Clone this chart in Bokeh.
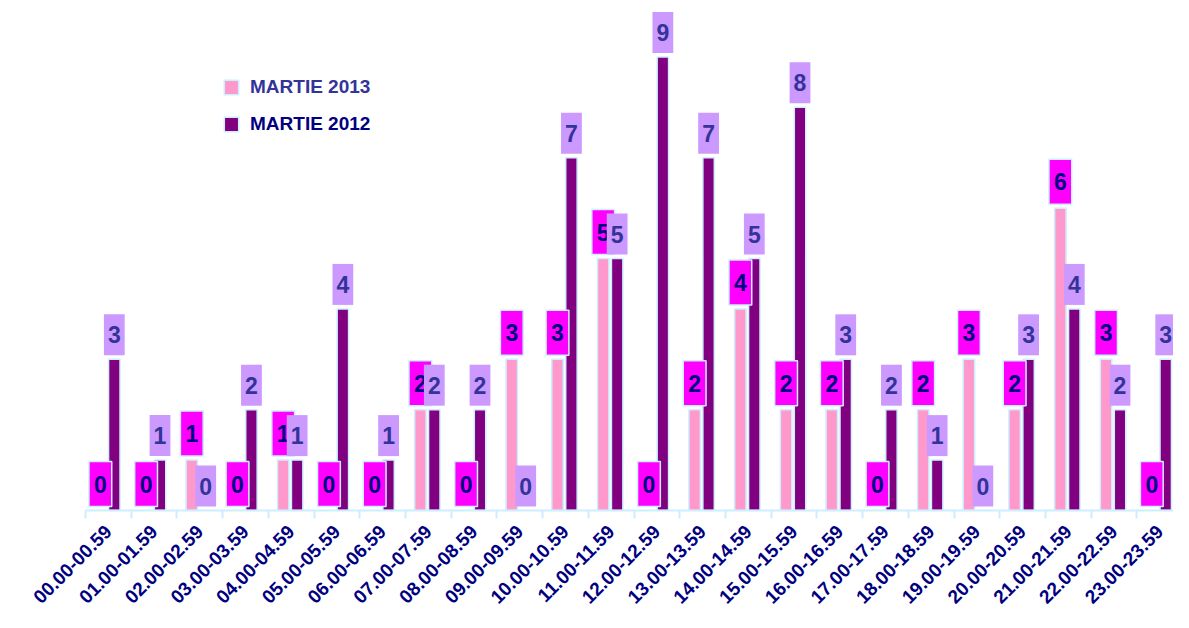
import numpy as np
from bokeh.plotting import figure
from bokeh.models import ColumnDataSource, FixedTicker, Range1d, Legend, LegendItem
from bokeh.embed import file_html
from bokeh.resources import INLINE
from bokeh.core.properties import value

categories = ["00.00-00.59", "01.00-01.59", "02.00-02.59", "03.00-03.59", "04.00-04.59",
              "05.00-05.59", "06.00-06.59", "07.00-07.59", "08.00-08.59", "09.00-09.59",
              "10.00-10.59", "11.00-11.59", "12.00-12.59", "13.00-13.59", "14.00-14.59",
              "15.00-15.59", "16.00-16.59", "17.00-17.59", "18.00-18.59", "19.00-19.59",
              "20.00-20.59", "21.00-21.59", "22.00-22.59", "23.00-23.59"]
martie_2013 = [0, 0, 1, 0, 1, 0, 0, 2, 0, 3, 3, 5, 0, 2, 4, 2, 2, 0, 2, 3, 2, 6, 3, 0]
martie_2012 = [3, 1, 0, 2, 1, 4, 1, 2, 2, 0, 7, 5, 9, 7, 5, 8, 3, 2, 1, 0, 3, 4, 2, 3]

PINK = "#ff99cc"
PURPLE = "#800080"
MAGENTA = "#ff00ff"
LAVENDER = "#cc99ff"
EDGE = "#cceeff"
NAVY = "#000080"
BLUE = "#333399"
FONT = "Liberation Sans"

idx = np.arange(len(categories))
src13 = ColumnDataSource(dict(x=idx + 0.325, top=martie_2013, lbl=[str(v) for v in martie_2013]))
src12 = ColumnDataSource(dict(x=idx + 0.63, top=martie_2012, lbl=[str(v) for v in martie_2012]))

p = figure(width=1173, height=612, output_backend="svg", toolbar_location=None,
           x_range=Range1d(0, 23.8), y_range=Range1d(0, 10.12),
           y_axis_location=None, min_border_left=85, min_border_right=0,
           min_border_top=0, min_border_bottom=99)
p.outline_line_color = None
p.xgrid.visible = False
p.ygrid.visible = False

r13 = p.vbar(x="x", top="top", bottom=0, width=0.25, source=src13,
             fill_color=PINK, line_color=EDGE, line_width=1.5)
r12 = p.vbar(x="x", top="top", bottom=0, width=0.25, source=src12,
             fill_color=PURPLE, line_color=EDGE, line_width=1.5)

p.text(x="x", y="top", text="lbl", source=src13, anchor="bottom_center", y_offset=-4,
       text_font=value(FONT), text_font_style="bold", text_font_size="23px",
       text_color=NAVY, background_fill_color=MAGENTA, border_line_color=EDGE,
       border_line_width=1.5, padding=(5, 14))
p.text(x="x", y="top", text="lbl", source=src12, anchor="bottom_center", y_offset=-4,
       text_font=value(FONT), text_font_style="bold", text_font_size="23px",
       text_color=BLUE, background_fill_color=LAVENDER, border_line_color=None,
       padding=(4, 12))

ax = p.xaxis[0]
ax.ticker = FixedTicker(ticks=list(idx + 0.5), minor_ticks=list(idx))
ax.major_label_overrides = {float(i + 0.5): c for i, c in enumerate(categories)}
ax.major_label_orientation = np.pi / 4
ax.major_label_text_font = FONT
ax.major_label_text_font_style = "bold"
ax.major_label_text_font_size = "19px"
ax.major_label_text_color = NAVY
ax.major_tick_line_color = None
ax.major_tick_out = 0
ax.major_tick_in = 0
ax.minor_tick_line_color = EDGE
ax.minor_tick_line_width = 2
ax.minor_tick_in = 0
ax.minor_tick_out = 8
ax.axis_line_color = EDGE
ax.axis_line_width = 2
ax.major_label_standoff = 10

for r, name, col, y in [(r13, "MARTIE 2013", BLUE, 412), (r12, "MARTIE 2012", NAVY, 375)]:
    lg = Legend(items=[LegendItem(label=name, renderers=[r])], location=(137, y),
                label_text_font=FONT, label_text_font_style="bold",
                label_text_font_size="19px", label_text_color=col,
                glyph_width=18, glyph_height=18, label_standoff=10,
                background_fill_alpha=0, border_line_color=None, padding=0, margin=0)
    p.add_layout(lg)

open("out.html", "w").write(file_html(p, INLINE))
